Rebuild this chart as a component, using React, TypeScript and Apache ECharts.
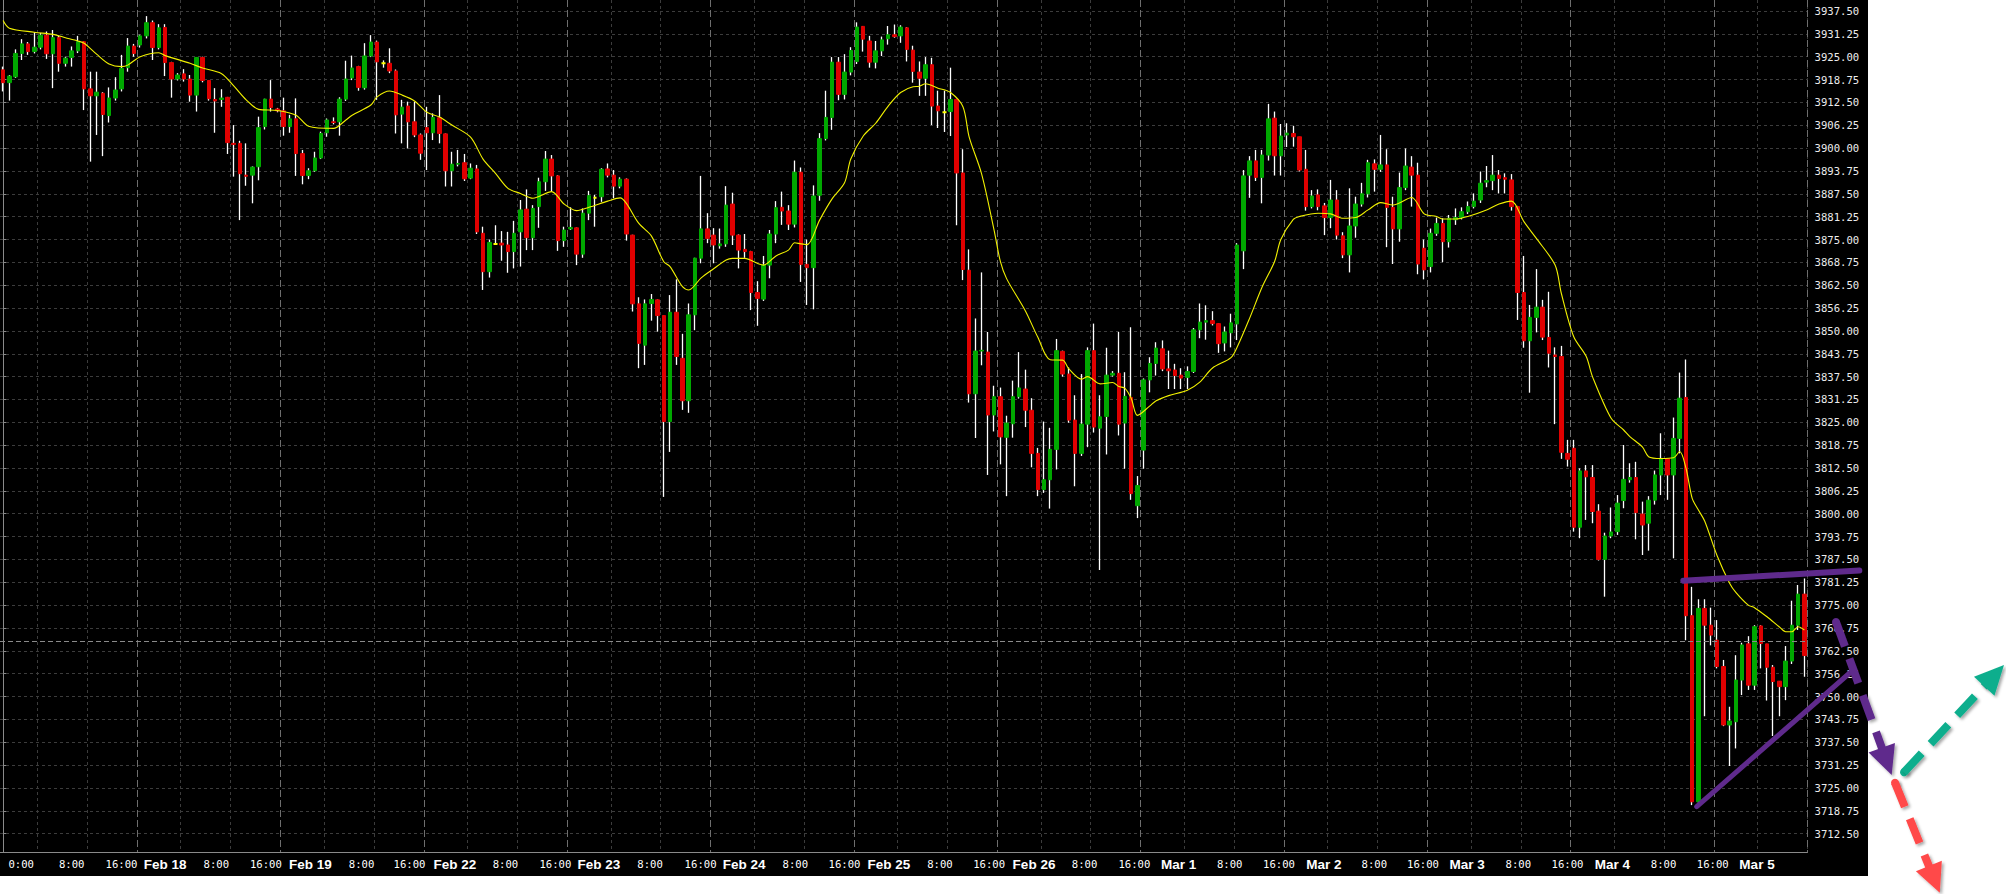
import React, { useEffect, useRef } from "react";
import * as echarts from "echarts";

// ---- hourly candles (open / close / low / high) ----
const opens = [
3921.4,3917.9,3919.5,3925.9,3928.5,3926.4,3927.6,3930.9,3925.8,3930.2,
3923.2,3924.8,3926.6,3929.1,3916.2,3914.3,3915.0,3908.9,3913.7,3916.2,
3922.0,3927.9,3928.2,3930.7,3934.3,3927.5,3933.0,3923.4,3918.9,3920.3,
3918.9,3914.5,3924.8,3918.5,3913.3,3913.3,3913.9,3901.3,3901.3,3892.6,
3892.6,3894.9,3905.9,3913.4,3910.7,3910.2,3905.9,3908.0,3898.5,3892.5,
3893.8,3897.3,3904.2,3907.2,3907.2,3913.4,3919.2,3922.3,3916.5,3925.2,
3929.0,3923.2,3923.2,3921.1,3909.3,3911.5,3907.2,3903.6,3905.6,3904.2,
3908.3,3903.9,3893.8,3895.6,3896.0,3891.8,3894.3,3876.7,3866.2,3873.8,
3874.0,3873.5,3871.7,3877.1,3883.3,3875.5,3884.0,3890.8,3897.0,3892.4,
3874.7,3877.9,3878.2,3871.0,3882.2,3886.4,3886.7,3894.3,3892.6,3889.6,
3891.5,3876.2,3857.4,3846.1,3857.5,3858.5,3854.2,3825.2,3855.1,3842.5,
3830.9,3854.4,3869.9,3877.9,3876.2,3873.3,3873.8,3884.7,3876.2,3872.3,
3871.7,3860.5,3858.7,3868.0,3876.5,3883.8,3882.8,3879.2,3893.4,3868.2,
3867.3,3887.1,3902.6,3908.4,3923.5,3914.7,3920.8,3923.7,3933.3,3929.3,
3923.5,3926.6,3929.9,3931.0,3930.7,3932.9,3926.8,3920.8,3919.1,3922.8,
3911.5,3909.8,3910.0,3913.3,3893.2,3866.6,3832.8,3844.5,3844.2,3827.0,
3832.0,3820.9,3824.6,3832.0,3834.1,3828.3,3816.5,3806.6,3809.3,3817.6,
3844.4,3838.2,3825.6,3816.5,3824.5,3844.6,3823.4,3826.6,3837.9,3838.4,
3824.8,3831.8,3802.2,3817.4,3836.6,3841.1,3845.1,3839.6,3839.3,3837.9,
3837.3,3838.9,3850.3,3852.4,3852.8,3852.0,3846.7,3849.5,3851.9,3871.9,
3892.6,3896.5,3892.0,3898.1,3908.2,3897.9,3903.6,3904.0,3903.1,3894.2,
3884.0,3887.2,3884.2,3881.0,3885.8,3876.0,3870.8,3878.7,3884.7,3887.5,
3895.7,3894.2,3895.4,3883.8,3877.9,3889.2,3894.8,3892.6,3872.6,3867.6,
3876.7,3879.4,3874.4,3880.4,3881.0,3882.6,3884.0,3885.8,3890.7,3891.1,
3892.6,3891.9,3891.3,3884.0,3860.5,3847.3,3853.7,3856.5,3848.2,3843.4,
3843.0,3816.5,3817.9,3796.3,3811.7,3809.9,3800.7,3787.5,3793.9,3795.1,
3803.6,3809.3,3809.9,3799.9,3797.4,3803.7,3810.6,3815.1,3810.6,3820.6,
3831.8,3772.1,3721.2,3774.1,3769.5,3765.4,3758.2,3742.2,3743.1,3754.5,
3764.4,3753.1,3769.3,3764.4,3758.0,3754.2,3752.7,3759.7,3769.5,3778.0
];
const closes = [
3917.9,3919.7,3925.9,3928.5,3926.4,3927.6,3930.9,3925.8,3930.2,3923.2,
3924.6,3926.6,3929.1,3916.2,3914.3,3915.3,3909.2,3913.7,3915.9,3921.8,
3927.9,3925.9,3930.7,3934.3,3927.5,3932.9,3923.4,3918.9,3920.0,3918.9,
3914.5,3924.8,3918.5,3913.5,3912.9,3913.7,3901.5,3901.0,3893.0,3892.3,
3894.8,3905.6,3913.4,3911.1,3910.2,3905.9,3908.0,3898.5,3892.5,3893.8,
3897.3,3904.0,3907.7,3907.0,3913.4,3918.9,3921.9,3916.6,3925.2,3929.0,
3923.6,3923.2,3921.1,3909.1,3911.2,3907.2,3903.6,3898.6,3904.2,3908.4,
3904.0,3893.8,3895.6,3895.8,3891.6,3894.5,3877.1,3866.2,3874.2,3873.8,
3873.5,3871.7,3876.7,3883.1,3875.5,3883.5,3890.8,3897.0,3892.4,3874.7,
3877.6,3878.3,3871.0,3882.2,3887.0,3886.4,3894.2,3892.6,3889.6,3891.5,
3876.5,3857.4,3846.6,3857.4,3858.6,3854.2,3825.2,3855.1,3843.0,3830.9,
3854.4,3869.9,3877.9,3875.3,3873.5,3873.8,3884.4,3876.2,3872.1,3871.7,
3860.5,3858.9,3868.0,3876.5,3883.7,3882.8,3879.2,3893.4,3868.2,3867.3,
3886.9,3902.6,3908.4,3923.5,3914.7,3920.8,3926.7,3933.1,3929.8,3923.5,
3926.6,3929.6,3931.0,3930.5,3933.1,3927.0,3921.0,3919.1,3922.8,3911.5,
3910.2,3909.8,3913.3,3893.2,3866.8,3832.8,3844.5,3844.7,3827.0,3832.0,
3821.0,3824.8,3832.0,3834.4,3828.3,3816.5,3806.6,3809.3,3817.6,3844.6,
3838.2,3825.6,3816.5,3824.5,3844.6,3823.7,3826.5,3837.9,3838.4,3824.5,
3832.1,3805.5,3807.7,3836.6,3841.1,3845.3,3839.6,3839.1,3837.8,3837.1,
3838.9,3850.3,3852.4,3852.8,3852.0,3846.5,3849.7,3852.2,3873.5,3892.4,
3896.5,3892.0,3898.1,3908.0,3897.9,3903.3,3904.1,3903.1,3894.0,3884.0,
3886.9,3884.0,3881.0,3885.8,3876.2,3870.8,3878.7,3884.7,3887.5,3896.0,
3894.2,3895.4,3883.8,3877.9,3889.2,3895.1,3892.6,3868.3,3866.7,3876.7,
3879.4,3874.4,3880.8,3881.0,3882.6,3884.0,3885.5,3890.4,3891.1,3892.6,
3891.7,3891.5,3884.0,3860.5,3847.3,3853.7,3856.5,3848.3,3843.9,3843.0,
3816.8,3814.9,3796.3,3811.7,3810.1,3800.6,3787.5,3793.9,3795.0,3802.9,
3809.4,3809.9,3800.3,3796.9,3803.7,3810.6,3815.1,3810.6,3820.6,3831.6,
3772.1,3721.2,3774.1,3769.5,3766.8,3758.2,3742.2,3743.3,3754.5,3764.1,
3753.1,3769.1,3764.5,3758.0,3754.1,3752.7,3759.7,3769.5,3778.0,3761.2
];
const lows = [
3915.5,3913.0,3919.2,3924.1,3925.5,3925.9,3927.0,3924.4,3916.4,3920.9,
3922.3,3922.3,3926.0,3910.4,3896.3,3903.6,3897.8,3907.0,3913.0,3915.5,
3920.9,3925.0,3927.5,3930.0,3924.1,3927.0,3919.7,3913.8,3918.5,3918.2,
3912.7,3910.0,3918.0,3913.0,3904.2,3911.3,3898.4,3892.2,3880.3,3889.7,
3884.9,3891.2,3905.1,3910.0,3909.8,3903.4,3904.2,3892.4,3890.1,3891.5,
3893.5,3897.0,3903.1,3906.5,3903.4,3912.9,3918.6,3915.7,3916.0,3924.9,
3913.2,3922.0,3920.5,3904.0,3901.3,3899.9,3903.0,3896.8,3894.0,3902.2,
3901.3,3889.5,3889.5,3895.0,3891.0,3891.5,3876.5,3861.2,3864.6,3873.5,
3869.2,3865.9,3867.1,3867.6,3872.1,3872.1,3878.2,3888.3,3888.1,3871.9,
3873.0,3877.6,3868.0,3870.0,3880.3,3878.5,3885.3,3892.0,3886.3,3889.0,
3874.7,3855.3,3839.8,3840.7,3852.8,3849.8,3804.6,3816.9,3840.7,3828.4,
3827.6,3850.2,3868.5,3874.0,3868.5,3872.5,3873.0,3873.5,3867.1,3870.0,
3855.7,3851.4,3858.2,3864.4,3874.0,3879.0,3877.6,3878.3,3863.4,3857.1,
3855.9,3885.6,3902.1,3905.0,3913.1,3913.3,3919.9,3923.0,3926.4,3922.0,
3921.8,3925.2,3928.3,3930.2,3928.8,3923.7,3917.9,3914.3,3914.3,3906.3,
3905.5,3904.4,3903.3,3878.9,3863.9,3830.4,3820.7,3840.6,3810.6,3822.5,
3813.5,3804.8,3820.8,3831.5,3823.7,3812.7,3804.8,3805.7,3801.4,3812.1,
3837.5,3824.9,3807.5,3815.8,3818.2,3822.2,3784.6,3816.2,3837.5,3821.4,
3812.3,3803.8,3798.8,3812.3,3833.2,3837.8,3839.0,3834.1,3834.1,3834.1,
3834.1,3838.5,3848.0,3847.6,3851.5,3844.0,3844.4,3845.5,3847.5,3866.9,
3886.4,3891.0,3884.9,3896.6,3892.5,3892.5,3900.3,3900.4,3893.6,3882.9,
3883.5,3883.0,3876.2,3878.1,3875.0,3869.9,3866.0,3875.5,3884.0,3886.5,
3888.1,3893.5,3872.9,3868.3,3874.4,3888.5,3884.0,3865.5,3864.1,3866.0,
3876.0,3868.8,3872.8,3879.0,3880.5,3882.0,3883.5,3885.0,3889.3,3888.5,
3887.6,3887.6,3882.9,3853.0,3845.4,3833.1,3849.6,3847.5,3840.0,3824.5,
3815.0,3812.9,3795.1,3793.3,3798.3,3797.4,3787.2,3777.3,3793.3,3794.2,
3801.5,3808.5,3793.0,3788.7,3789.9,3802.5,3805.1,3803.8,3787.8,3816.5,
3765.4,3720.3,3720.8,3744.6,3764.0,3757.7,3741.9,3731.0,3735.8,3750.4,
3751.8,3751.8,3757.7,3748.9,3739.2,3744.6,3749.0,3758.9,3768.2,3755.4
];
const highs = [
3922.3,3920.0,3927.0,3929.8,3929.0,3931.7,3931.5,3931.9,3932.3,3930.7,
3925.0,3927.8,3930.7,3929.3,3920.9,3920.9,3915.3,3916.6,3919.4,3925.5,
3930.1,3928.5,3931.0,3936.1,3934.9,3933.9,3933.9,3923.6,3920.5,3921.6,
3920.0,3924.9,3925.0,3918.6,3916.4,3916.1,3914.0,3906.3,3902.0,3901.3,
3895.0,3908.6,3913.5,3918.6,3911.0,3913.8,3909.1,3913.6,3899.5,3894.5,
3899.0,3904.5,3908.1,3908.4,3913.9,3923.9,3925.3,3922.5,3928.7,3930.9,
3929.4,3924.0,3927.3,3921.5,3913.2,3912.7,3912.7,3904.0,3911.3,3909.5,
3914.5,3904.0,3899.0,3899.5,3898.4,3895.8,3895.4,3878.5,3875.0,3878.9,
3877.3,3877.1,3880.1,3885.8,3888.7,3884.4,3891.9,3899.2,3898.1,3892.6,
3878.5,3883.8,3878.3,3883.5,3888.3,3887.2,3894.5,3895.8,3894.0,3892.0,
3891.7,3876.3,3859.2,3858.6,3860.1,3858.6,3854.3,3859.8,3864.1,3849.2,
3857.5,3870.0,3892.4,3882.2,3878.1,3878.0,3889.6,3887.8,3876.4,3876.5,
3871.9,3863.6,3870.5,3877.6,3885.5,3888.1,3884.4,3896.6,3894.7,3875.0,
3889.8,3904.1,3915.7,3924.9,3924.9,3925.7,3927.6,3934.4,3933.4,3930.7,
3929.3,3930.5,3933.4,3933.8,3933.6,3933.1,3928.0,3923.7,3924.9,3924.7,
3915.7,3915.7,3922.0,3913.5,3899.7,3872.3,3853.4,3866.0,3849.7,3835.0,
3834.5,3826.8,3836.4,3844.2,3839.4,3831.6,3818.0,3825.2,3823.5,3847.8,
3844.6,3840.0,3832.4,3838.2,3845.5,3852.0,3832.4,3845.4,3839.0,3849.7,
3838.7,3851.0,3810.3,3837.0,3842.8,3846.9,3847.4,3844.6,3841.0,3839.8,
3840.3,3850.8,3857.5,3857.0,3855.4,3852.1,3851.2,3854.7,3874.0,3894.0,
3897.8,3899.5,3899.5,3912.1,3910.0,3906.6,3906.8,3906.1,3903.1,3899.5,
3888.5,3888.7,3885.0,3891.3,3888.5,3877.0,3889.0,3886.7,3890.5,3896.8,
3896.9,3903.6,3899.7,3886.7,3893.3,3899.9,3897.8,3896.0,3875.0,3878.0,
3881.0,3880.8,3881.7,3883.5,3883.8,3885.4,3887.6,3893.6,3895.1,3898.1,
3894.0,3893.1,3892.9,3884.2,3870.5,3857.1,3866.9,3858.5,3860.7,3845.5,
3845.9,3820.2,3820.2,3812.4,3813.3,3813.3,3802.6,3794.8,3801.7,3805.1,
3818.8,3813.8,3814.2,3803.3,3804.8,3811.8,3822.0,3815.2,3826.3,3838.6,
3842.2,3780.0,3776.6,3776.6,3774.3,3770.9,3760.0,3747.2,3761.3,3764.7,
3766.5,3769.5,3769.5,3764.4,3758.6,3754.2,3763.8,3776.2,3780.5,3782.3
];

// ---- moving average (yellow), read at sampled bars ----
const maBar = [0,1,5,8,10,12,13,15,17,19,20,22,25,26,30,32,35,37,39,41,44,47,49,53,55,56,59,60,62,64,66,68,70,72,75,77,79,81,83,85,88,90,92,94,97,99,100,102,104,106,107,109,110,112,114,116,117,119,121,122,124,126,127,128,129,131,133,135,136,138,140,142,144,146,147,148,150,152,154,155,157,159,160,161,164,166,168,170,171,173,174,176,178,179,180,181,182,184,185,187,190,192,194,197,198,200,202,204,205,207,208,211,213,215,217,219,221,223,226,228,230,231,233,235,238,240,242,244,246,249,250,252,254,255,258,260,261,263,264,266,268,269,270,271,272,273,275,277,278,280,281,283,285,286,287,288,289];
const maValue = [3934.9,3932.8,3931.7,3931.1,3930.2,3929.3,3928.7,3925.7,3923.0,3922.3,3922.7,3925.0,3926.1,3925.3,3923.2,3921.9,3920.4,3917.0,3913.2,3910.6,3910.3,3909.0,3906.0,3905.4,3907.7,3909.0,3911.8,3914.0,3915.6,3914.5,3912.9,3909.8,3908.5,3906.3,3903.0,3897.0,3893.1,3889.0,3887.6,3886.3,3888.1,3884.7,3882.9,3883.8,3885.5,3886.4,3884.9,3879.4,3876.0,3868.9,3867.6,3862.1,3861.2,3864.5,3867.0,3869.4,3869.85,3869.85,3868.5,3868.0,3870.5,3872.1,3874.1,3873.8,3873.6,3880.3,3886.1,3890.5,3897.0,3903.3,3906.8,3911.5,3915.2,3916.8,3916.9,3917.6,3916.4,3915.2,3911.3,3903.0,3892.9,3877.5,3869.0,3864.3,3855.5,3848.3,3842.1,3842.0,3839.6,3836.8,3837.5,3835.5,3835.9,3834.8,3834.3,3831.5,3826.9,3829.5,3830.9,3832.3,3833.8,3836.0,3839.8,3842.7,3845.6,3853.5,3862.0,3869.0,3875.0,3880.5,3881.3,3882.2,3882.0,3880.8,3881.0,3883.1,3885.1,3884.45,3886.5,3882.0,3881.3,3880.6,3880.6,3881.3,3883.1,3884.7,3885.5,3879.9,3875.3,3868.0,3860.3,3848.4,3843.0,3837.5,3826.1,3822.9,3821.1,3818.3,3815.6,3815.1,3815.3,3817.0,3812.5,3804.2,3801.0,3798.0,3788.5,3781.0,3778.5,3775.0,3774.3,3771.8,3769.0,3767.7,3767.7,3769.1,3768.2];

// dashed horizontal price line
const priceLine = 3765.25;

// ---- axes: tick values and labels ----
const yTicks = [3712.5,3718.75,3725,3731.25,3737.5,3743.75,3750,3756.25,3762.5,3768.75,3775,3781.25,3787.5,3793.75,3800,3806.25,3812.5,3818.75,3825,3831.25,3837.5,3843.75,3850,3856.25,3862.5,3868.75,3875,3881.25,3887.5,3893.75,3900,3906.25,3912.5,3918.75,3925,3931.25,3937.5];
const xTickText = ["0:00","8:00","16:00","Feb 18","8:00","16:00","Feb 19","8:00","16:00","Feb 22","8:00","16:00","Feb 23","8:00","16:00","Feb 24","8:00","16:00","Feb 25","8:00","16:00","Feb 26","8:00","16:00","Mar 1","8:00","16:00","Mar 2","8:00","16:00","Mar 3","8:00","16:00","Mar 4","8:00","16:00","Mar 5"];
const xTickAt = [2.9,11.0,19.0,26.0,34.2,42.15,49.3,57.5,65.2,72.5,80.6,88.6,95.6,103.8,111.9,118.9,127.1,135.0,142.1,150.3,158.2,165.4,173.5,181.5,188.6,196.8,204.7,211.9,220.0,227.8,234.9,243.1,251.0,258.2,266.4,274.3,281.4];
const dayLineTicks = [22,45,68,91,114,137,160,183,206,229,252,275];
const hourLineTicks = [6,14,29,37,52,60,75,83,98,106,121,129,144,152,167,175,190,198,213,221,236,244,259,267,282];

const PURPLE = "#5f2a8c";
const TEAL = "#10ae8d";
const RED = "#ff4848";

function arrow(x1: number, y1: number, tx: number, ty: number, color: string) {
  const dx = tx - x1, dy = ty - y1;
  const len = Math.sqrt(dx * dx + dy * dy);
  const ux = dx / len, uy = dy / len;
  const px = -uy, py = ux;
  const head = 29, half = 14;
  const bx = tx - ux * head, by = ty - uy * head;
  const shadow = { shadowBlur: 3, shadowOffsetX: 2, shadowOffsetY: 2, shadowColor: "rgba(0,0,0,0.35)" };
  return [
    { type: "circle", z: 100, shape: { cx: x1, cy: y1, r: 4 }, style: { fill: color, ...shadow } },
    { type: "line", z: 100, shape: { x1, y1, x2: bx + ux * 2, y2: by + uy * 2 }, style: { stroke: color, lineWidth: 8, lineDash: [26, 13], lineCap: "butt", ...shadow } },
    { type: "polygon", z: 100, shape: { points: [[tx, ty], [bx + px * half, by + py * half], [bx - px * half, by - py * half]] }, style: { fill: color, ...shadow } },
  ];
}

export default function App() {
  const ref = useRef<HTMLDivElement>(null);
  useEffect(() => {
    document.body.style.margin = "0";
    const chart = echarts.init(ref.current!, null, { renderer: "svg" });
    const N = opens.length;
    const cats = opens.map((_, i) => String(i));
    const wick = opens.map((o, i) => [o, closes[i], Math.min(lows[i], o, closes[i]), Math.max(highs[i], o, closes[i])]);
    const body = opens.map((o, i) => {
      const c = closes[i];
      const item: any = { value: [o, c, Math.min(o, c), Math.max(o, c)] };
      if (o === c) item.itemStyle = { borderWidth: 2 };
      return item;
    });
    const ma: (number | null)[] = new Array(N).fill(null);
    maBar.forEach((b, j) => { ma[b] = maValue[j]; });
    const daySet = new Set(dayLineTicks);
    const hourSet = new Set(hourLineTicks);

    chart.setOption({
      animation: false,
      backgroundColor: "transparent",
      grid: { left: -2.1, right: 198.5, top: 0, bottom: 42, containLabel: false },
      xAxis: [
        {
          type: "category", data: cats, boundaryGap: true, position: "bottom",
          axisLine: { show: true, lineStyle: { color: "#8a8a8a", width: 1 } },
          axisTick: { show: false }, axisLabel: { show: false },
          splitLine: { show: true, interval: (i: number) => hourSet.has(i), lineStyle: { color: "#3c3c3c", width: 1, type: [3, 3] } },
        },
        {
          type: "category", data: cats, boundaryGap: true, position: "bottom",
          axisLine: { show: false }, axisTick: { show: false }, axisLabel: { show: false },
          splitLine: { show: true, interval: (i: number) => daySet.has(i), lineStyle: { color: "#6e6e6e", width: 1, type: [7, 3] } },
        },
        {
          type: "value", min: -0.5, max: N - 0.5, position: "bottom",
          axisLine: { show: false }, axisTick: { show: false }, splitLine: { show: false },
          axisLabel: {
            customValues: xTickAt, margin: 5, color: "#ffffff",
            formatter: (v: number) => {
              let k = 0, best = 1e9;
              xTickAt.forEach((a, j) => { const d = Math.abs(a - v); if (d < best) { best = d; k = j; } });
              const t = xTickText[k];
              return t.indexOf(":") >= 0 ? "{t|" + t + "}" : "{d|" + t + "}";
            },
            rich: {
              t: { fontFamily: "DejaVu Sans Mono", fontSize: 10.6, color: "#ffffff", lineHeight: 14 },
              d: { fontFamily: "Liberation Sans", fontWeight: "bold", fontSize: 13.5, color: "#ffffff", lineHeight: 14 },
            },
          },
        },
      ],
      yAxis: {
        type: "value", position: "right", min: 3707.47, max: 3940.51,
        axisLine: { show: true, lineStyle: { color: "#8a8a8a", width: 1 } },
        axisTick: { show: true, customValues: yTicks, length: 3, lineStyle: { color: "#8a8a8a" } },
        axisLabel: {
          customValues: yTicks, margin: 7, color: "#ececec",
          fontFamily: "DejaVu Sans Mono", fontSize: 10.6,
          formatter: (v: number) => v.toFixed(2),
        },
        splitLine: { show: true, lineStyle: { color: "#3c3c3c", width: 1, type: [3, 3] } },
      },
      series: [
        {
          name: "wick", type: "candlestick", xAxisIndex: 0, data: wick, barWidth: 0.1, silent: true,
          itemStyle: { color: "#ffffff", color0: "#ffffff", borderColor: "#ffffff", borderColor0: "#ffffff", borderColorDoji: "#ffffff", borderWidth: 1.3 },
        },
        {
          name: "body", type: "candlestick", xAxisIndex: 0, data: body, barWidth: 4, silent: true,
          itemStyle: { color: "#00a800", color0: "#e00000", borderColor: "#00a800", borderColor0: "#e00000", borderColorDoji: "#ffff00", borderWidth: 1 },
        },
        {
          name: "MA", type: "line", xAxisIndex: 0, data: ma, connectNulls: true, showSymbol: false, symbol: "none",
          smooth: 0.3, silent: true, lineStyle: { color: "#f2f200", width: 1.1 },
          markLine: {
            silent: true, symbol: ["none", "none"], label: { show: false },
            lineStyle: { color: "#8a8a8a", width: 1, type: [5, 3] },
            data: [{ yAxis: priceLine }],
          },
        },
      ],
      graphic: {
        elements: [
          { type: "line", z: 100, shape: { x1: 1683.3, y1: 580.7, x2: 1859.3, y2: 570.5 }, style: { stroke: PURPLE, lineWidth: 6, lineCap: "round" } },
          { type: "line", z: 100, shape: { x1: 1696.7, y1: 806.7, x2: 1852, y2: 671 }, style: { stroke: PURPLE, lineWidth: 5, lineCap: "round" } },
          ...arrow(1836, 622, 1891.7, 775, PURPLE),
          ...arrow(1904, 772.3, 2004, 665, TEAL),
          ...arrow(1895, 782.7, 1939.8, 892.8, RED),
        ],
      },
    });
    return () => chart.dispose();
  }, []);
  return (
    <div style={{ position: "relative", width: 2006, height: 894, background: "#ffffff", overflow: "hidden" }}>
      <div style={{ position: "absolute", left: 0, top: 0, width: 1868, height: 876, background: "#000000" }} />
      <div ref={ref} style={{ position: "absolute", left: 0, top: 0, width: 2006, height: 894 }} />
    </div>
  );
}
